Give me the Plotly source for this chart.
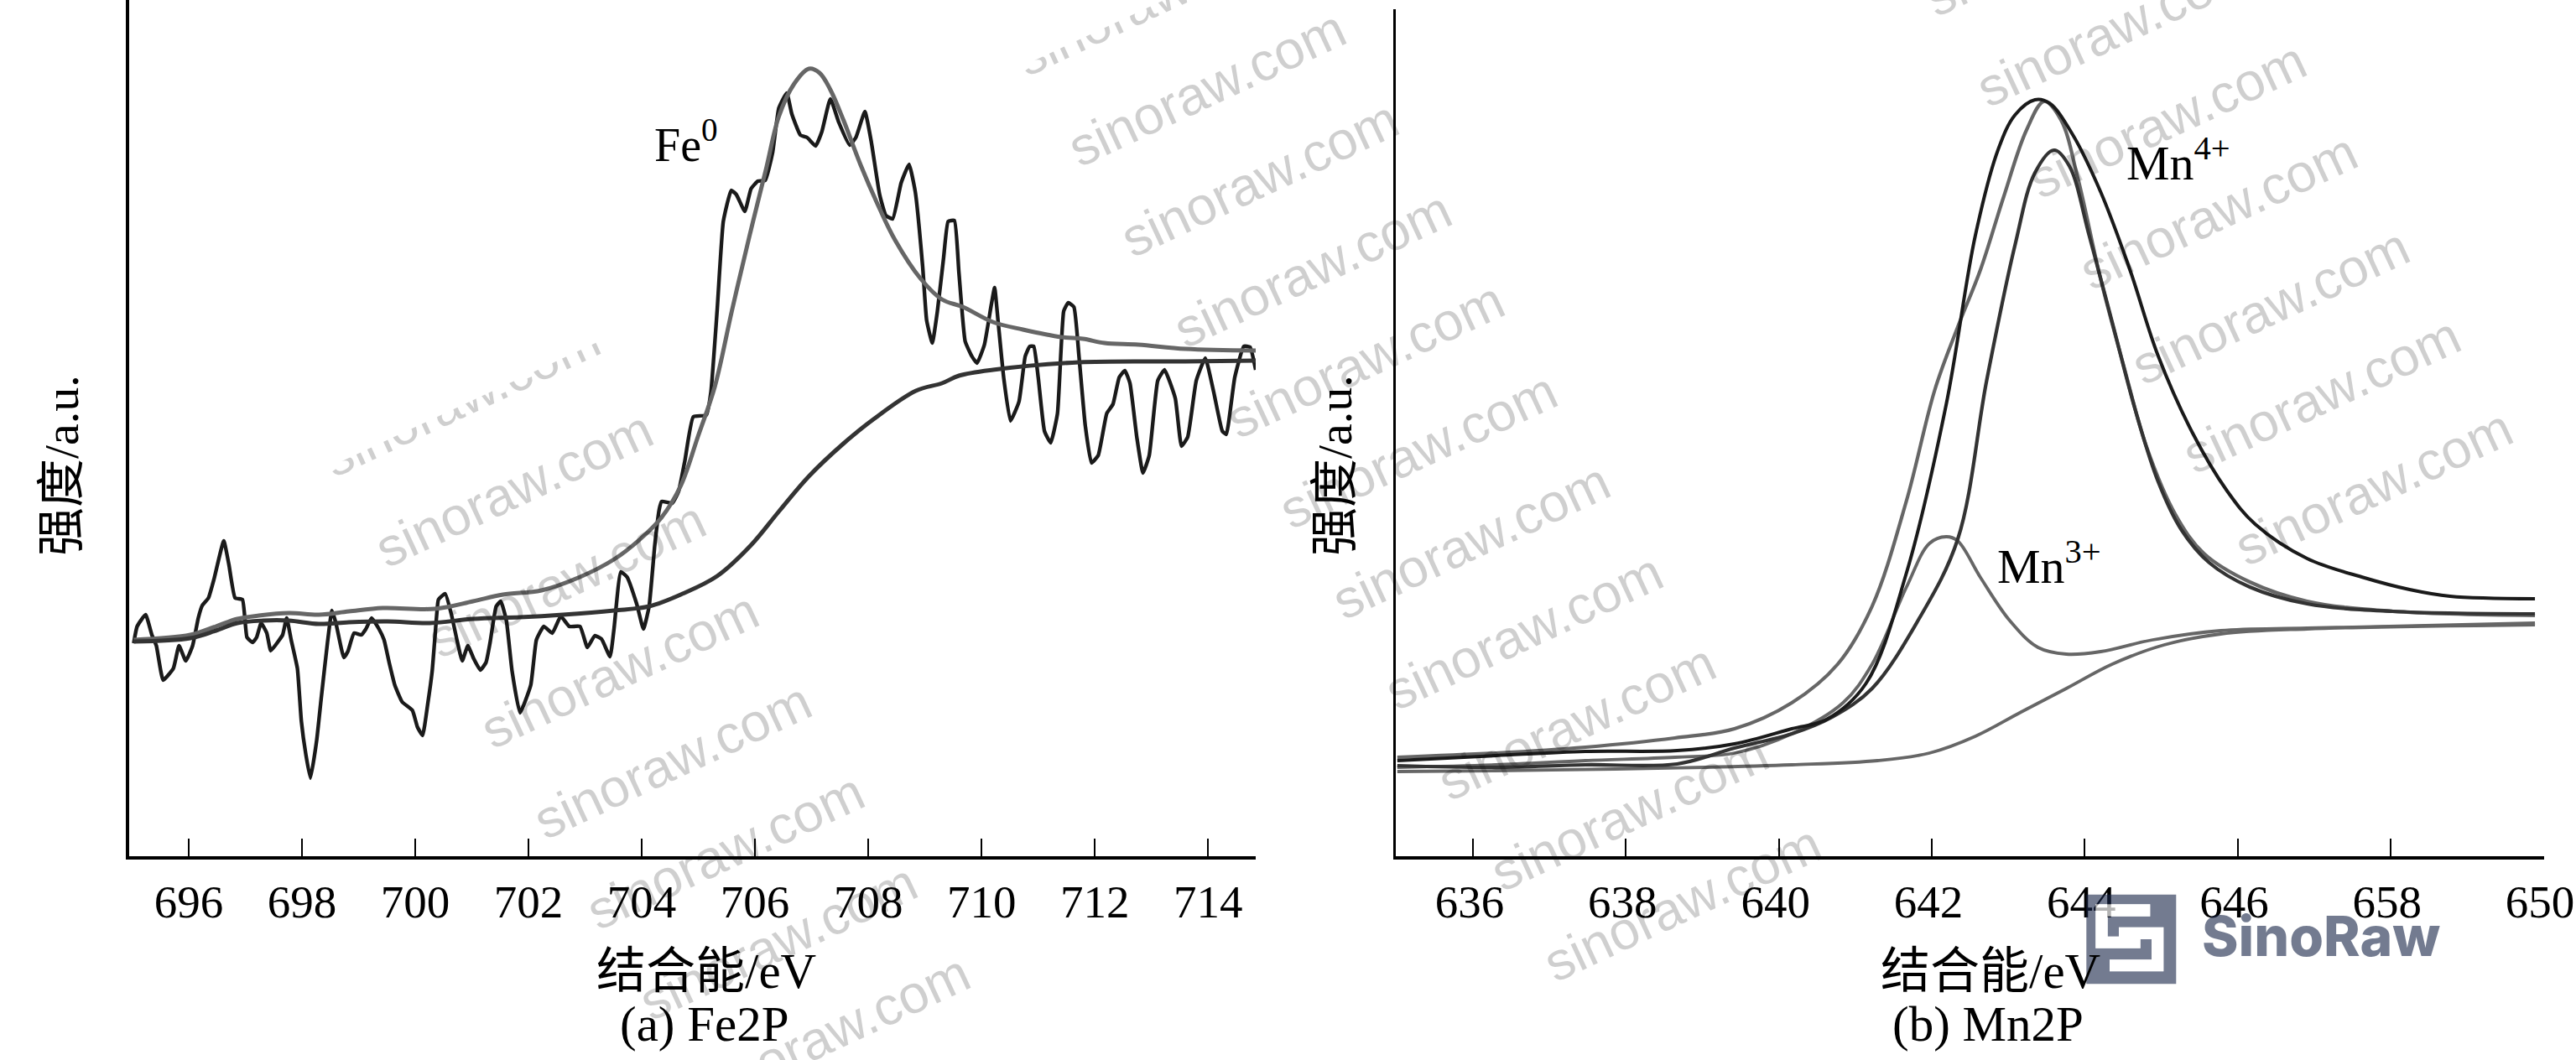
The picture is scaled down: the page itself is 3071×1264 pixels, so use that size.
import plotly.graph_objects as go

W, H = 3071, 1264

# Fe 2p spectrum: measured signal, peak fit and background
fe_energy = [695.03,695.09,695.24,695.35,695.43,695.55,695.73,695.83,695.95,696.07,696.17,696.24,696.35,696.45,696.62,696.71,696.82,696.95,697.03,697.13,697.20,697.28,697.38,697.45,697.58,697.66,697.73,697.81,697.92,697.99,698.07,698.15,698.26,698.34,698.45,698.53,698.60,698.74,698.81,698.92,699.05,699.13,699.23,699.36,699.45,699.54,699.64,699.77,699.95,700.04,700.13,700.22,700.30,700.38,700.41,700.53,700.64,700.75,700.83,700.93,701.03,701.15,701.25,701.32,701.43,701.51,701.61,701.71,701.85,702.04,702.14,702.27,702.42,702.57,702.72,702.91,703.04,703.17,703.29,703.44,703.51,703.63,703.74,703.91,704.03,704.13,704.23,704.31,704.35,704.54,704.65,704.76,704.91,705.14,705.22,705.33,705.44,705.58,705.67,705.82,705.93,706.05,706.18,706.31,706.42,706.56,706.65,706.80,706.92,707.07,707.18,707.33,707.48,707.67,707.78,707.94,708.05,708.20,708.31,708.43,708.58,708.72,708.83,708.96,709.03,709.13,709.22,709.33,709.41,709.52,709.60,709.71,709.83,709.92,710.05,710.17,710.23,710.29,710.39,710.51,710.66,710.77,710.85,710.92,711.00,711.11,711.22,711.34,711.45,711.53,711.63,711.72,711.83,711.94,712.06,712.21,712.32,712.43,712.53,712.62,712.74,712.85,712.96,713.11,713.23,713.42,713.53,713.64,713.79,713.95,714.10,714.25,714.32,714.47,714.63,714.74,714.84]
fe_signal = [256,276,290,266,253,212,226,253,235,253,286,301,310,333,378,350,310,308,263,257,263,280,268,247,258,266,286,260,226,163,123,95,140,190,256,295,280,239,246,268,266,273,286,273,260,233,206,186,176,156,146,183,223,290,308,315,290,256,235,253,238,224,233,256,300,306,283,223,173,206,260,276,268,288,276,276,251,265,261,240,273,341,335,303,273,300,373,416,425,423,437,473,526,528,555,652,759,796,791,771,798,807,808,841,894,912,887,862,859,849,866,905,877,850,859,890,855,791,766,762,805,827,794,705,641,614,652,716,759,760,698,616,598,590,612,659,680,641,573,521,544,598,610,610,573,509,495,530,652,662,657,598,516,471,480,530,541,573,581,566,502,459,480,569,582,548,491,502,569,596,555,509,505,573,610,609,582]

fe_fit_energy = [695.03,696.03,696.48,696.86,697.24,697.77,698.30,698.83,699.43,700.34,701.02,701.55,702.23,702.91,703.51,703.97,704.35,704.69,704.99,705.29,705.59,705.90,706.20,706.42,706.69,706.95,707.14,707.33,707.56,707.86,708.16,708.47,708.92,709.30,709.67,710.20,710.73,711.41,711.79,712.17,712.77,713.60,714.84]
fe_fit = [260,266,276,285,289,292,290,294,298,297,306,314,319,335,356,380,406,444,502,562,652,741,823,884,923,941,936,916,880,827,780,737,691,666,657,639,630,621,619,614,612,607,605]

fe_base_energy = [695.03,696.03,696.48,696.86,697.32,697.77,698.30,698.83,699.51,700.26,701.02,701.85,702.61,703.51,704.13,704.72,705.33,705.93,706.42,706.95,707.56,708.09,708.84,709.30,709.60,710.20,711.72,713.60,714.84]
fe_base = [258,262,271,280,283,283,279,281,282,280,285,287,290,295,300,315,336,373,413,455,494,523,557,566,575,582,591,592,593]

# Mn 2p spectrum: measured signal, total fit, two components and background
mn_raw_energy = [635.01,636.30,637.47,638.67,639.42,640.17,640.62,641.14,641.67,642.19,642.57,642.87,643.09,643.35,643.54,643.84,644.21,644.59,644.96,645.41,645.86,646.23,646.91,647.66,648.25,648.78,649.89]
mn_raw = [116,122,127,128,136,154,165,208,340,541,742,845,886,904,900,863,794,702,599,507,438,398,357,334,320,312,309]

mn_sum_energy = [635.01,636.30,637.47,638.64,639.42,640.17,640.77,641.22,641.67,642.04,642.34,642.64,642.94,643.24,643.47,643.69,643.91,644.21,644.51,644.81,645.19,645.56,646.16,646.91,648.03,649.89]
mn_sum = [120,125,132,143,154,185,231,300,426,558,633,702,788,868,902,880,811,690,587,490,409,363,329,306,294,289]

mn4_energy = [635.01,636.30,637.47,638.67,639.42,640.17,640.70,641.22,641.82,642.34,642.72,643.09,643.35,643.60,643.80,644.06,644.36,644.66,644.96,645.26,645.63,646.16,646.91,648.03,649.89]
mn4 = [110,108,111,112,131,148,168,202,283,380,570,731,817,844,825,742,639,535,449,392,352,323,303,294,291]

mn3_energy = [635.01,636.30,637.47,638.64,639.42,640.17,640.84,641.22,641.67,641.97,642.19,642.34,642.64,643.02,643.39,643.76,644.21,644.89,645.78,646.91,649.89]
mn3 = [108,111,116,120,125,148,185,231,323,375,383,378,334,283,251,243,246,260,271,274,280]

mn_base_energy = [635.01,636.30,637.86,639.03,640.17,641.29,641.97,642.57,643.17,643.76,644.36,645.04,645.78,646.91,649.89]
mn_base = [103,104,106,108,111,116,125,145,174,202,231,254,267,273,278]

fe_ticks = [696,698,700,702,704,706,708,710,712,714]
mn_ticks = [636,638,640,642,644,646,648,650]
mn_tick_text = ["636","638","640","642","644","646","658","650"]

SERIF = "Liberation Serif, Noto Sans CJK SC"
DARK, MID, GREY = "#1a1a1a", "#333333", "#666666"


def px(x):
    return x / W


def py(y):
    return 1 - y / H


fig = go.Figure()

# Left panel
fig.add_trace(go.Scatter(x=fe_energy, y=fe_signal, mode="lines", xaxis="x", yaxis="y",
                         line=dict(color=DARK, width=4.4, shape="spline", smoothing=0.4)))
fig.add_trace(go.Scatter(x=fe_fit_energy, y=fe_fit, mode="lines", xaxis="x", yaxis="y",
                         line=dict(color=GREY, width=5, shape="spline", smoothing=1)))
fig.add_trace(go.Scatter(x=fe_base_energy, y=fe_base, mode="lines", xaxis="x", yaxis="y",
                         line=dict(color=MID, width=5, shape="spline", smoothing=1)))

# Right panel
for xs, ys, colour, width in [
    (mn_base_energy, mn_base, GREY, 3.8),
    (mn3_energy, mn3, GREY, 3.8),
    (mn_sum_energy, mn_sum, GREY, 4.2),
    (mn4_energy, mn4, MID, 4.2),
    (mn_raw_energy, mn_raw, DARK, 4),
]:
    fig.add_trace(go.Scatter(x=xs, y=ys, mode="lines", xaxis="x2", yaxis="y2",
                             line=dict(color=colour, width=width, shape="spline", smoothing=1)))

axis_style = dict(showline=True, linecolor="black", showgrid=False, zeroline=False, automargin=False)
tick_style = dict(ticks="inside", ticklen=21, tickwidth=2, tickcolor="black",
                  tickfont=dict(family=SERIF, size=55, color="black"), ticklabelstandoff=3)

fig.update_layout(
    width=W, height=H, margin=dict(l=0, r=0, t=0, b=0),
    paper_bgcolor="white", plot_bgcolor="rgba(0,0,0,0)", showlegend=False,
    xaxis=dict(domain=[px(154), px(1497)], range=[694.95, 714.84], anchor="y",
               tickmode="array", tickvals=fe_ticks, linewidth=4, **axis_style, **tick_style),
    yaxis=dict(domain=[py(1021), 1], range=[2, 1023], anchor="x",
               showticklabels=False, ticks="", linewidth=4, **axis_style),
    xaxis2=dict(domain=[px(1664), px(3033)], range=[634.99, 650.01], anchor="y2",
                tickmode="array", tickvals=mn_ticks, ticktext=mn_tick_text, ticklabelshift=-4,
                linewidth=4, **axis_style, **tick_style),
    yaxis2=dict(domain=[py(1021), py(11)], range=[2, 1012], anchor="x2",
                showticklabels=False, ticks="", linewidth=3, **axis_style),
)


def note(x, y, text, size=58, family=SERIF, color="black", angle=0, xanchor="center", **kw):
    fig.add_annotation(xref="paper", yref="paper", x=px(x), y=py(y), text=text, showarrow=False,
                       xanchor=xanchor, yanchor="middle", textangle=angle,
                       font=dict(family=family, size=size, color=color), **kw)


# Site watermark, tilted and repeated along three diagonals
MARK = "rgba(0,0,0,0.19)"
MARK_FONT = "Liberation Sans"
for cx, cy in [(550, 475), (1376, -3)]:
    note(cx, cy, "sinoraw.com", 64, MARK_FONT, MARK, -25)
    note(cx - 9, cy - 22, "&nbsp;", 20, MARK_FONT, "white", -25, width=470, height=60, bgcolor="white")

left_run = [(613 + 63 * k, 583 + 108 * k) for k in range(7)]
mid_run = [(1439 + 63 * k, 105 + 108 * k) for k in range(10)]
right_run = [(2460, -74), (2522, 34), (2584, 143), (2645, 252), (2707, 365), (2768, 471), (2830, 581)]
for cx, cy in left_run + mid_run + right_run:
    note(cx, cy, "sinoraw.com", 64, MARK_FONT, MARK, -25)

# Corner logo: a square with a meander cut out of it
band = [(2498.3, 1078.3), (2563.3, 1078.3), (2563.3, 1092.7), (2512.7, 1092.7), (2512.7, 1116.7),
        (2526, 1116.7), (2526, 1105.7), (2579.3, 1105.7), (2579.3, 1158.3), (2515, 1158.3),
        (2515, 1144.3), (2565, 1144.3), (2565, 1120), (2551.7, 1120), (2551.7, 1130.7), (2498.3, 1130.7)]
square = [(2487.3, 1066.7), (2594.3, 1066.7), (2594.3, 1173.3), (2487.3, 1173.3)]


def path_of(points):
    return "M" + " L".join(f"{px(a):.5f},{py(b):.5f}" for a, b in points) + " Z"


LOGO = "rgba(22,35,70,0.6)"
fig.add_shape(type="path", xref="paper", yref="paper", layer="above", line_width=0,
              path=path_of(square) + " " + path_of(band), fillcolor=LOGO)
fig.add_shape(type="path", xref="paper", yref="paper", layer="above", line_width=0,
              path=path_of(band), fillcolor="rgba(255,255,255,0.7)")
fig.add_annotation(xref="paper", yref="paper", x=px(2767), y=py(1116), text="SinoRaw", showarrow=False,
                   xanchor="center", yanchor="middle",
                   font=dict(family="Inter", size=66, color=LOGO, weight=800))

# Axis titles, captions and peak labels
note(842, 1158, "结合能/eV", 59)
note(840, 1221, "(a) Fe2P", 59)
note(2373, 1158, "结合能/eV", 59)
note(2370, 1221, "(b) Mn2P", 59)
note(73, 555, "强度/a.u.", angle=-90)
note(1591, 555, "强度/a.u.", angle=-90)
note(778, 169, "Fe<sup>0</sup>", 56, xanchor="left")
note(2533, 190, "Mn<sup>4+</sup>", 58, xanchor="left")
note(2379, 672, "Mn<sup>3+</sup>", 58, xanchor="left")

fig.write_html("out.html")
